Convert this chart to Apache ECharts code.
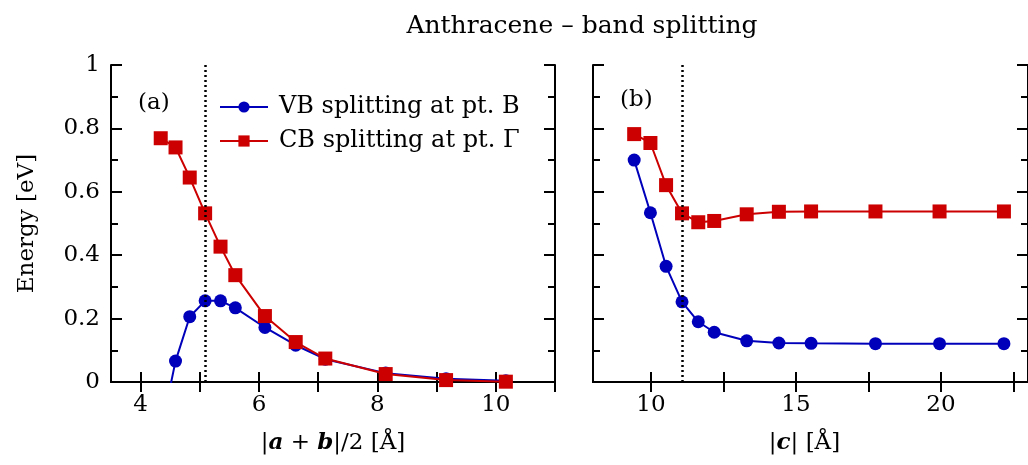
<!DOCTYPE html>
<html>
<head>
<meta charset="utf-8">
<title>Anthracene - band splitting</title>
<script src="https://cdn.jsdelivr.net/npm/echarts@6/dist/echarts.min.js"></script>
<style>
  html, body { margin: 0; padding: 0; background: #fff; }
  #chart { width: 1028px; height: 465px; }
</style>
</head>
<body>
<div id="chart"></div>
<script>
// (a) in-plane lattice |a+b|/2 [Å]
var abX = [4.34, 4.59, 4.83, 5.09, 5.35, 5.60, 6.10, 6.62, 7.12, 8.14, 9.16, 10.17];
var abVB = [-0.16, 0.066, 0.206, 0.256, 0.256, 0.234, 0.172, 0.116, 0.072, 0.028, 0.010, 0.004];
var abCB = [0.769, 0.740, 0.645, 0.532, 0.427, 0.337, 0.208, 0.126, 0.074, 0.025, 0.006, 0.001];
// (b) stacking |c| [Å]
var cX = [9.42, 9.98, 10.52, 11.07, 11.63, 12.18, 13.30, 14.41, 15.52, 17.74, 19.95, 22.17];
var cVB = [0.700, 0.534, 0.365, 0.253, 0.190, 0.157, 0.130, 0.123, 0.122, 0.121, 0.121, 0.121];
var cCB = [0.782, 0.754, 0.621, 0.532, 0.504, 0.508, 0.529, 0.537, 0.538, 0.538, 0.538, 0.538];
// experimental lattice values (dotted lines)
var abExp = 5.09;
var cExp = 11.07;
// ticks / labels
var abTicks = [4, 5, 6, 7, 8, 9, 10, 11];
var abLabels = [4, 6, 8, 10];
var cTicks = [10, 12.5, 15, 17.5, 20, 22.5];
var cLabels = [10, 15, 20];

var vbName = 'VB splitting at pt. B';
var cbName = 'CB splitting at pt. Γ';
var blue = '#0000bb';
var red = '#cc0000';
var font = 'DejaVu Serif';

function pair(xs, ys) {
    return xs.map(function (x, i) { return [x, ys[i]]; });
}

function xAx(grid, pos, min, max, ticks, labels) {
    return {
        type: 'value', gridIndex: grid, position: pos, min: min, max: max,
        axisLine: { lineStyle: { color: '#000', width: 2 } },
        axisTick: { inside: true, length: 10, customValues: ticks, lineStyle: { color: '#000', width: 2 } },
        axisLabel: pos == 'bottom'
            ? { customValues: labels, color: '#000', fontFamily: font, fontSize: 23, margin: 12 }
            : { show: false },
        splitLine: { show: false }
    };
}

function yAx(grid, pos, showLabel) {
    return {
        type: 'value', gridIndex: grid, position: pos, min: 0, max: 1, interval: 0.2,
        axisLine: { lineStyle: { color: '#000', width: 2 } },
        axisTick: { inside: true, length: 11, lineStyle: { color: '#000', width: 2 } },
        minorTick: { show: true, splitNumber: 2, length: 7, lineStyle: { color: '#000', width: 2 } },
        axisLabel: showLabel
            ? { color: '#000', fontFamily: font, fontSize: 23, margin: 11,
                formatter: function (v) { return v == 0 || v == 1 ? String(v) : v.toFixed(1); } }
            : { show: false },
        splitLine: { show: false }
    };
}

function dotted(x) {
    return {
        silent: true, symbol: 'none', animation: false,
        label: { show: false },
        lineStyle: { color: '#000', width: 2.5, type: [2, 3] },
        data: [{ xAxis: x }]
    };
}

var nameRich = {
    n: { fontFamily: font, fontSize: 23, color: '#000' },
    bi: { fontFamily: font, fontSize: 23, color: '#000', fontWeight: 'bold', fontStyle: 'italic' }
};

var chart = echarts.init(document.getElementById('chart'));
var xAxes = [
    xAx(0, 'bottom', 3.5, 11, abTicks, abLabels),
    xAx(0, 'top', 3.5, 11, abTicks, abLabels),
    xAx(1, 'bottom', 8, 23, cTicks, cLabels),
    xAx(1, 'top', 8, 23, cTicks, cLabels)
];
xAxes[0].name = '{n||}{bi|a}{n| + }{bi|b}{n||/2 [Å]}';
xAxes[0].nameLocation = 'middle';
xAxes[0].nameGap = 50;
xAxes[0].nameTextStyle = { rich: nameRich };
xAxes[2].name = '{n||}{bi|c}{n|| [Å]}';
xAxes[2].nameLocation = 'middle';
xAxes[2].nameGap = 50;
xAxes[2].nameTextStyle = { padding: [0, 12, 0, 0], rich: nameRich };

var yAxes = [yAx(0, 'left', true), yAx(0, 'right', false), yAx(1, 'left', false), yAx(1, 'right', false)];
yAxes[0].name = 'Energy [eV]';
yAxes[0].nameLocation = 'middle';
yAxes[0].nameGap = 72;
yAxes[0].nameTextStyle = { fontFamily: font, fontSize: 23, color: '#000' };

var option = {
    animation: false,
    backgroundColor: '#fff',
    title: [
        { text: 'Anthracene – band splitting', left: 577, top: 9, textAlign: 'center',
          textStyle: { fontFamily: font, fontSize: 25, fontWeight: 'normal', color: '#000' } },
        { text: '(a)', left: 133, top: 87, textStyle: { fontFamily: font, fontSize: 23, fontWeight: 'normal', color: '#000' } },
        { text: '(b)', left: 615, top: 84, textStyle: { fontFamily: font, fontSize: 23, fontWeight: 'normal', color: '#000' } }
    ],
    legend: {
        data: [vbName, cbName],
        orient: 'vertical', left: 214, top: 90,
        itemWidth: 48, itemHeight: 14, itemGap: 10,
        textStyle: { fontFamily: font, fontSize: 24, color: '#000', padding: [0, 0, 0, 6] },
        selectedMode: false
    },
    grid: [
        { left: 111, top: 65, width: 444, height: 317 },
        { left: 593, top: 65, width: 443, height: 317 }
    ],
    xAxis: xAxes,
    yAxis: yAxes,
    series: [
        { name: vbName, type: 'line', xAxisIndex: 0, yAxisIndex: 0, data: pair(abX, abVB),
          symbol: 'circle', symbolSize: 13, color: blue, lineStyle: { width: 2 }, clip: true,
          markLine: dotted(abExp) },
        { name: cbName, type: 'line', xAxisIndex: 0, yAxisIndex: 0, data: pair(abX, abCB),
          symbol: 'rect', symbolSize: 14, color: red, lineStyle: { width: 2 }, clip: true },
        { name: vbName, type: 'line', xAxisIndex: 2, yAxisIndex: 2, data: pair(cX, cVB),
          symbol: 'circle', symbolSize: 13, color: blue, lineStyle: { width: 2 }, clip: true,
          markLine: dotted(cExp) },
        { name: cbName, type: 'line', xAxisIndex: 2, yAxisIndex: 2, data: pair(cX, cCB),
          symbol: 'rect', symbolSize: 14, color: red, lineStyle: { width: 2 }, clip: true }
    ]
};
chart.setOption(option);
</script>
</body>
</html>
